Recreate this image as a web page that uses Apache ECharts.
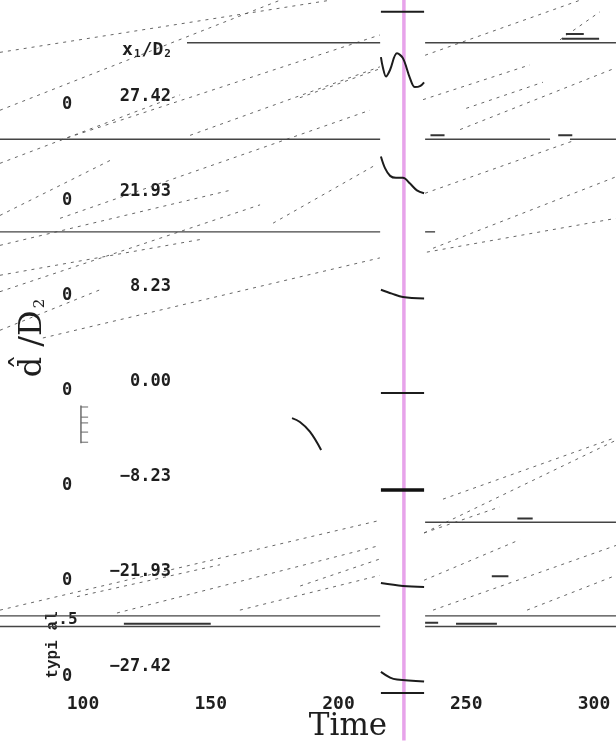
<!DOCTYPE html>
<html><head><meta charset="utf-8">
<script src="https://cdn.jsdelivr.net/npm/echarts@6/dist/echarts.min.js"></script>
<style>html,body{margin:0;padding:0;background:#fff}#c{width:616px;height:743px}</style>
</head><body><div id="c"></div>
<script>
// ---- data (time, offset-in-trace-units) ----
const timeTicks = [100, 150, 200, 250, 300];
const rowValues = ['27.42', '21.93', '8.23', '0.00', '\u22128.23', '\u221221.93', '\u221227.42'];
const magentaTime = 225.6;

// solid baselines (horizontal, broken by the gap)
const solidSegments = [
  [[140.7, 3.63], [216.3, 3.63]], [[233.9, 3.63], [308.6, 3.63]],
  [[67.5, 2.63], [216.3, 2.63]], [[233.9, 2.63], [282.8, 2.63]], [[290.6, 2.63], [308.6, 2.63]],
  [[67.5, 1.67], [216.3, 1.67]], [[233.9, 1.67], [237.8, 1.67]],
  [[233.9, -1.34], [308.6, -1.34]],
  [[67.5, -2.31], [216.3, -2.31]], [[233.9, -2.31], [308.6, -2.31]],
  [[67.5, -2.42], [216.3, -2.42]], [[233.9, -2.42], [308.6, -2.42]]
];
// short thick marks sitting on the baselines
const shortMarks = [
  [[287.5, 3.67], [302.0, 3.67]], [[289.0, 3.72], [296.0, 3.72]], [[236.0, 2.67], [241.5, 2.67]],
  [[286.0, 2.67], [291.5, 2.67]], [[233.9, -2.38], [239.0, -2.38]], [[260.0, -1.90], [266.5, -1.90]],
  [[270.0, -1.30], [276.0, -1.30]], [[116.0, -2.39], [150.0, -2.39]], [[246.0, -2.39], [262.0, -2.39]]
];

// short traces drawn inside the gap at the magenta line
const gapTraces = [
  [[216.6, 3.95], [233.5, 3.95]],
  [[216.6, 3.48], [217.4, 3.37], [218.6, 3.28], [220.2, 3.35], [222.9, 3.52], [225.2, 3.47], [228.0, 3.26], [229.9, 3.17], [231.9, 3.18], [233.5, 3.22]],
  [[216.6, 2.45], [218.2, 2.33], [220.2, 2.25], [222.5, 2.23], [225.2, 2.23], [228.0, 2.17], [230.7, 2.10], [233.5, 2.07]],
  [[216.6, 1.07], [220.9, 1.03], [225.2, 0.995], [233.5, 0.98]],
  [[216.6, 0.0], [233.5, 0.0]],
  [[216.6, -1.97], [225.2, -2.0], [233.5, -2.01]],
  [[216.6, -2.89], [220.2, -2.95], [222.9, -2.97], [233.5, -2.99]],
  [[216.6, -3.11], [233.5, -3.11]]
];
const thickGapTrace = [[216.6, -1.005], [233.5, -1.005]];
const leftCurve = [[181.8, -0.26], [184.9, -0.30], [188.8, -0.40], [193.2, -0.59]];

// dotted trajectories
const dottedLines = [
  [[67.5, 3.53], [196.7, 4.07]], [[67.5, 2.93], [177.1, 4.07]], [[91.0, 2.62], [216.2, 3.71]],
  [[141.9, 2.67], [216.2, 3.38]], [[233.9, 3.50], [294.5, 4.07]], [[233.1, 3.04], [274.9, 3.40]],
  [[247.6, 2.73], [308.6, 3.37]], [[286.7, 3.66], [302.3, 3.95]], [[67.5, 2.38], [138.0, 3.09]],
  [[67.5, 1.84], [110.6, 2.41]], [[91.0, 1.81], [212.3, 2.93]], [[174.4, 1.76], [214.3, 2.36]],
  [[233.9, 2.07], [292.6, 2.62]], [[237.0, 1.50], [308.6, 2.24]], [[234.6, 1.46], [308.6, 1.81]],
  [[67.5, 1.05], [169.3, 1.95]], [[84.3, 0.57], [216.2, 1.40]], [[67.5, 1.22], [145.8, 1.59]],
  [[67.5, 1.53], [157.5, 2.10]], [[184.9, 3.06], [216.2, 3.36]], [[67.5, 0.65], [106.7, 1.07]],
  [[250.0, 2.95], [280.0, 3.22]],
  [[67.5, -2.25], [216.2, -1.32]], [[113.3, -2.28], [216.2, -1.58]], [[161.4, -2.25], [216.2, -1.89]],
  [[97.7, -2.11], [153.6, -1.78]], [[233.5, -1.45], [308.6, -0.49]], [[237.0, -2.25], [308.6, -1.58]],
  [[273.8, -2.25], [308.6, -1.89]], [[233.5, -1.94], [271.0, -1.52]], [[240.9, -1.10], [308.6, -0.46]],
  [[233.5, -1.45], [263.2, -1.18]], [[185.0, -2.0], [216.2, -1.72]]
];

// small scale comb
const combSpine = [[99.2, -0.13], [99.2, -0.52]];
const combTicks = [-0.145, -0.25, -0.31, -0.405, -0.51];

// ---- chart ----
const chart = echarts.init(document.getElementById('c'), null, {renderer: 'canvas'});
const series = [];
const base = {type: 'line', symbol: 'none', silent: true, animation: false, z: 2};
dottedLines.forEach(d => series.push(Object.assign({}, base, {data: d,
  lineStyle: {color: '#555', width: 1, type: [3, 5], opacity: 0.9}})));
solidSegments.forEach(d => series.push(Object.assign({}, base, {data: d,
  lineStyle: {color: '#444', width: 1.4}})));
shortMarks.forEach(d => series.push(Object.assign({}, base, {data: d,
  lineStyle: {color: '#333', width: 2}})));
gapTraces.forEach(d => series.push(Object.assign({}, base, {data: d, smooth: 0.35,
  lineStyle: {color: '#1c1c1c', width: 2}, z: 4})));
series.push(Object.assign({}, base, {data: thickGapTrace, lineStyle: {color: '#111', width: 3.5}, z: 4}));
series.push(Object.assign({}, base, {data: leftCurve, smooth: 0.4, lineStyle: {color: '#1c1c1c', width: 2}}));
series.push(Object.assign({}, base, {data: combSpine, lineStyle: {color: '#555', width: 1.3}}));
combTicks.forEach(v => series.push(Object.assign({}, base, {data: [[99.2, v], [102.0, v]],
  lineStyle: {color: '#666', width: 1}})));
series.push(Object.assign({}, base, {data: [[magentaTime, -3.6], [magentaTime, 4.1]],
  lineStyle: {color: '#e7a3ea', width: 3.5}, z: 3}));

const txt = '#1e1e1e';
const graphics = [];
rowValues.forEach((v, i) => {
  graphics.push({type: 'text', x: 171, y: 97 + i * 95, style: {text: v, fill: txt,
    font: 'bold 17px "DejaVu Sans Mono"', align: 'right', verticalAlign: 'middle'}});
  graphics.push({type: 'text', x: 67, y: 105 + i * 95.2, style: {text: '0', fill: txt,
    font: 'bold 17px "DejaVu Sans Mono"', align: 'center', verticalAlign: 'middle'}});
});
graphics.push({type: 'text', x: 147, y: 50, style: {
  text: '{a|x}{s|1}{a|/D}{s|2}', align: 'center', verticalAlign: 'middle',
  rich: {a: {font: 'bold 18px "DejaVu Sans Mono"', fill: txt},
         s: {font: 'bold 11px "DejaVu Sans Mono"', fill: txt, padding: [8, 1, 0, 1]}}}});
graphics.push({type: 'text', x: 33, y: 338, rotation: Math.PI / 2, style: {
  text: '{a|d\u0302 /D}{s|2}', align: 'center', verticalAlign: 'middle',
  rich: {a: {font: '32px "DejaVu Serif"', fill: txt},
         s: {font: '15px "DejaVu Serif"', fill: txt, padding: [14, 0, 0, 2]}}}});
graphics.push({type: 'text', x: 53, y: 645, rotation: Math.PI / 2, style: {text: 'typi al',
  font: 'bold 16px "Liberation Mono"', fill: txt, align: 'center', verticalAlign: 'middle'}});
graphics.push({type: 'text', x: 68, y: 620, style: {text: '.5',
  font: 'bold 16px "DejaVu Sans Mono"', fill: txt, align: 'center', verticalAlign: 'middle'}});
graphics.push({type: 'text', x: 348, y: 727, style: {text: 'Time',
  font: '31px "DejaVu Serif"', fill: txt, align: 'center', verticalAlign: 'middle'}});

chart.setOption({
  animation: false,
  backgroundColor: '#fff',
  grid: {left: -44.75, right: -105.75, top: -2.65, bottom: 2.6, containLabel: false, outerBoundsMode: 'none'},
  xAxis: {type: 'value', min: 50, max: 350, interval: 50, offset: -53.5,
    axisLine: {show: false}, axisTick: {show: false}, splitLine: {show: false},
    axisLabel: {show: true, margin: 8, color: txt, fontFamily: 'DejaVu Sans Mono', fontWeight: 'bold', fontSize: 18,
      formatter: v => timeTicks.indexOf(v) >= 0 ? String(v) : ''}},
  yAxis: {type: 'value', min: -3.6, max: 4.1, show: false, splitLine: {show: false}},
  series: series,
  graphic: graphics
});
</script></body></html>
